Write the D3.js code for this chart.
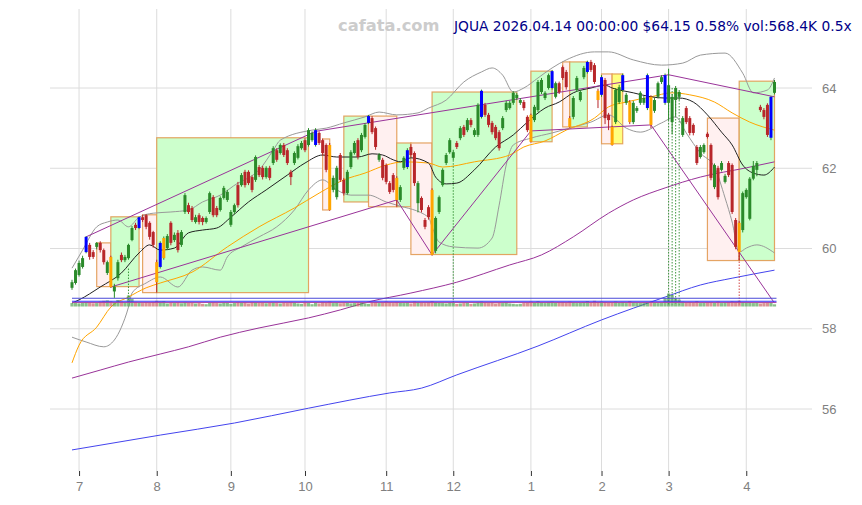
<!DOCTYPE html>
<html>
<head>
<meta charset="utf-8">
<title>JQUA daily</title>
<script src="https://cdn.jsdelivr.net/npm/d3@7"></script>
<style>
  body { margin: 0; background: #fff; }
  svg { display: block; font-family: "DejaVu Sans", sans-serif; }
</style>
</head>
<body>
<div id="chart"></div>
<script>
// x axis: bar index of the first trading day of each month
const monthIdx = [2, 24, 45, 66, 89, 108, 130, 150, 169, 191]
const monthLabels = ["7", "8", "9", "10", "11", "12", "1", "2", "3", "4"]
const priceTicks = [56, 58, 60, 62, 64]

// daily bars [open, high, low, close], 2025-06-27 .. 2026-04-14
const ohlc = [
  [59.02,59.22,58.97,59.16],[59.14,59.50,59.10,59.46],
  // jul
  [59.34,59.70,59.30,59.64],[59.54,59.82,59.50,59.76],[59.91,60.31,59.88,60.29],[60.09,60.14,59.72,59.79],
  [59.91,59.96,59.74,59.79],[60.04,60.16,59.98,60.14],[60.14,60.18,59.90,59.96],[59.96,60.00,59.60,59.66],
  [59.39,59.70,59.34,59.66],[59.79,59.82,59.02,59.04],[58.93,59.12,58.77,59.05],[59.26,59.72,59.20,59.66],
  [59.84,59.90,59.66,59.71],[59.71,59.84,59.66,59.79],[59.76,60.12,59.72,60.09],[60.21,60.56,60.18,60.51],
  [60.59,60.64,60.46,60.51],[60.51,60.80,60.48,60.78],[60.78,60.84,60.66,60.71],[60.83,60.86,60.48,60.54],
  [60.64,60.68,60.22,60.29],[60.41,60.44,60.02,60.09],
  // aug
  [59.66,59.72,58.90,59.16],[59.54,60.18,59.50,60.14],[59.76,60.30,59.72,60.26],[60.01,60.36,59.96,60.31],
  [60.64,60.68,60.08,60.14],[60.21,60.40,60.16,60.34],[60.39,60.46,59.90,59.96],[60.09,60.46,60.04,60.41],
  [60.91,61.38,60.86,61.33],[61.08,61.14,60.86,60.91],[61.01,61.06,60.66,60.71],[60.66,60.84,60.62,60.78],
  [60.83,60.88,60.60,60.66],[60.76,60.80,60.58,60.66],[60.66,60.80,60.62,60.76],[60.91,61.42,60.86,61.38],
  [61.28,61.33,60.78,60.83],[61.01,61.06,60.78,60.83],[60.96,61.30,60.92,61.26],[61.26,61.56,61.22,61.51],
  [61.21,61.46,61.16,61.41],
  // sep
  [60.59,60.96,60.54,60.91],[60.91,61.12,60.86,61.08],[61.58,61.66,61.02,61.08],[61.58,61.88,61.54,61.83],
  [61.91,61.96,61.52,61.58],[61.91,61.95,61.58,61.63],[61.78,61.82,61.40,61.46],[61.71,62.32,61.66,62.28],
  [62.03,62.08,61.78,61.83],[62.01,62.06,61.72,61.78],[61.78,62.05,61.74,62.01],[62.01,62.06,61.70,61.76],
  [62.13,62.55,62.08,62.50],[62.45,62.50,62.16,62.21],[62.38,62.62,62.34,62.58],[62.58,62.63,62.28,62.33],
  [62.45,62.50,62.08,62.13],[61.91,61.96,61.58,61.78],[62.13,62.42,62.08,62.38],[62.26,62.60,62.22,62.55],
  [62.50,62.68,62.46,62.63],
  // oct
  [62.70,62.75,62.40,62.45],[62.58,63.00,62.54,62.95],[62.70,62.92,62.66,62.88],[62.58,63.00,62.54,62.95],
  [62.88,62.92,62.58,62.63],[62.70,62.74,62.32,62.38],[62.58,62.62,61.90,61.96],[62.58,62.63,60.94,60.96],
  [61.46,61.82,61.40,61.76],[61.28,62.06,61.22,62.01],[62.33,62.38,61.66,61.71],[61.71,61.76,61.32,61.38],
  [61.38,61.96,61.34,61.91],[62.03,62.45,61.98,62.40],[62.38,62.68,62.34,62.63],[62.70,62.75,62.22,62.28],
  [62.45,62.88,62.40,62.83],[62.78,63.12,62.74,63.08],[63.13,63.33,63.10,63.30],[63.25,63.30,62.85,62.90],
  [63.00,63.04,62.46,62.53],[62.21,62.38,62.16,62.33],[62.21,62.26,61.70,61.76],
  // nov
  [62.08,62.12,61.60,61.66],[61.63,61.68,61.36,61.41],[61.83,61.88,61.40,61.46],[61.76,61.80,61.04,61.21],
  [61.21,61.58,61.16,61.53],[62.01,62.30,61.96,62.26],[62.03,62.50,61.98,62.45],[62.53,62.60,62.28,62.33],
  [62.38,62.42,61.56,61.63],[61.13,61.68,60.90,61.63],[61.26,61.30,60.90,60.96],[60.71,60.76,60.48,60.54],
  [61.03,61.08,60.72,60.78],[61.46,61.50,59.82,59.84],[59.94,60.80,59.88,60.76],[60.91,61.32,60.86,61.28],
  [61.58,62.00,61.54,61.96],[62.13,62.38,62.08,62.33],[62.40,62.75,62.36,62.70],
  // dec
  [62.26,62.46,62.20,62.40],[62.63,62.68,62.48,62.53],[62.75,63.05,62.70,63.00],[63.03,63.08,62.78,62.83],
  [62.95,63.25,62.90,63.20],[63.20,63.25,63.02,63.08],[62.83,63.00,62.78,62.95],[62.83,63.62,62.78,63.58],
  [63.28,63.96,63.24,63.93],[63.58,63.63,63.28,63.33],[63.33,63.38,63.02,63.08],[63.13,63.18,62.84,62.90],
  [63.03,63.08,62.70,62.75],[62.90,62.95,62.44,62.50],[63.00,63.30,62.95,63.25],[63.45,63.68,63.40,63.63],
  [63.50,63.68,63.46,63.63],[63.63,63.92,63.58,63.88],[63.75,63.88,63.70,63.83],[63.63,63.75,63.58,63.70],
  [63.65,63.70,63.44,63.50],[63.28,63.32,62.90,62.95],
  // jan
  [63.33,63.36,62.64,62.66],[63.20,63.58,63.15,63.53],[63.45,64.20,63.40,64.15],[63.90,64.25,63.85,64.20],
  [63.75,63.92,63.70,63.88],[64.00,64.36,63.96,64.32],[64.00,64.45,63.96,64.42],[63.78,64.16,63.74,64.12],
  [64.12,64.16,63.85,63.90],[64.52,64.56,64.20,64.25],[64.40,64.45,63.96,64.02],[63.25,63.30,63.01,63.03],
  [63.28,63.80,63.22,63.75],[63.95,64.30,63.90,64.25],[63.70,63.95,63.66,63.90],[64.27,64.55,64.22,64.50],
  [64.40,64.68,64.36,64.65],[64.65,64.70,64.40,64.45],[64.57,64.62,64.10,64.15],[63.93,63.98,63.50,63.70],
  // feb
  [63.83,64.32,63.78,64.27],[64.20,64.25,63.10,63.25],[63.33,63.38,62.95,63.20],[63.03,63.06,62.56,62.58],
  [63.15,64.00,63.10,63.95],[63.65,64.08,63.60,64.02],[63.95,64.36,63.90,64.32],[63.63,63.88,63.58,63.83],
  [63.65,63.70,63.10,63.15],[63.15,63.68,63.10,63.63],[63.43,63.55,63.38,63.50],[63.63,63.92,63.58,63.88],
  [63.63,63.80,63.58,63.75],[63.50,64.36,63.45,64.32],[63.78,63.82,63.00,63.08],[63.43,63.75,63.38,63.70],
  [63.78,64.16,63.74,64.12],[64.15,64.32,64.10,64.27],[63.63,64.36,63.58,64.32],
  // mar
  [63.63,64.48,63.20,64.07],[63.15,63.85,62.85,63.78],[63.70,64.05,63.30,64.00],[63.78,63.95,63.70,63.90],
  [62.83,63.30,62.78,63.25],[63.50,63.55,63.10,63.15],[63.25,63.30,62.82,62.88],[63.08,63.12,62.82,62.88],
  [62.53,62.58,62.08,62.13],[62.28,62.58,62.24,62.53],[62.40,62.62,62.36,62.58],[62.86,62.90,62.74,62.78],
  [62.58,62.62,61.70,61.76],[61.53,62.12,61.48,62.08],[62.01,62.06,61.22,61.28],[61.96,62.18,61.92,62.13],
  [61.66,61.86,61.62,61.81],[62.13,62.18,61.78,61.83],[62.08,62.12,60.86,60.91],[60.71,60.76,59.98,60.04],
  [60.64,60.68,59.70,59.91],[60.46,61.42,60.40,61.38],
  // apr
  [61.28,61.50,61.24,61.46],[60.74,61.78,60.70,61.74],[61.74,62.18,61.70,62.06],[61.96,62.18,61.80,62.13],
  [63.53,63.58,63.40,63.45],[63.45,63.50,63.22,63.28],[63.58,63.62,62.78,62.83],[62.76,63.80,62.70,63.78],
  [63.88,64.20,63.84,64.15]
]
const blueBars = [4, 19, 25, 69, 84, 95, 116, 136, 146, 150, 156, 163, 168, 198]
const orangeBars = [11, 24, 26, 73, 92, 102, 130, 141, 149, 153, 158, 164, 189]

// volume, thousands of shares
const volumes = [
  900,1100,800,950,1200,1000,850,900,1300,1500,
  1600,1400,1200,1700,1300,1100,2900,2000,1200,1000,
  900,1100,1000,1200,1500,1300,1400,800,1000,900,
  1100,850,1200,950,1000,800,900,700,600,1000,
  1100,900,800,1000,950,700,900,1200,1000,1100,
  800,1200,1100,900,1000,850,950,1000,900,800,
  1000,900,1200,1100,800,700,1000,900,600,1100,
  800,1200,1000,1300,900,1000,850,900,1000,800,
  900,1100,1000,800,700,1100,1200,900,1000,1300,
  1100,900,1200,1000,900,1100,800,1300,1200,1000,
  900,1100,1400,1200,1000,900,800,1100,1000,700,
  800,900,1000,700,800,1200,1300,1000,900,1100,
  800,1000,900,1200,800,700,600,700,900,1000,
  1300,1000,1400,1100,900,1200,1300,1000,1100,1200,
  1000,1300,1100,900,1000,1200,1400,1100,1500,1200,
  1300,1200,1000,1100,1300,1000,1200,900,1400,1100,
  1000,900,1100,1200,1300,1000,900,1000,2200,3400,
  3000,2200,1800,1300,1100,1200,1000,1400,900,1000,
  1100,1200,1000,1300,900,1100,1200,1400,1300,1500,
  1200,1000,1100,900,1000,800,900,1000,1100,568.4
]
const volLevels = [58.76, 58.685, 58.655]

// range boxes [fromBar, toBar, top, bottom, kind]
const boxes = [
  [7, 11, 60.14, 59.05, "down"], [11, 19, 60.79, 59.05, "up"], [20, 24, 60.84, 58.90, "down"],
  [24, 67, 62.76, 58.90, "up"], [71, 73, 62.73, 60.96, "down"], [77, 84, 63.30, 61.16, "up"],
  [84, 92, 63.30, 61.04, "down"], [92, 96, 62.63, 61.04, "up"], [96, 102, 62.63, 59.85, "down"],
  [102, 126, 63.90, 59.85, "up"], [130, 136, 64.42, 62.66, "up"], [139, 141, 64.65, 63.03, "down"],
  [141, 146, 64.65, 63.03, "up"], [150, 153, 64.35, 62.61, "down"], [153, 156, 64.35, 62.61, "flat"],
  [180, 189, 63.25, 59.70, "down"], [189, 199, 64.17, 59.70, "up"]
]

// moving averages and bands [bar, price]
const maShort = [[0,58.64],[2,58.72],[8,59.04],[14,59.39],[19,59.89],[22,60.09],[25,59.96],[29,60.01],
  [33,60.39],[37,60.46],[41,60.51],[45,60.78],[50,61.16],[55,61.46],[61,61.83],[66,62.13],[71,62.33],
  [75,62.28],[81,62.28],[85,62.36],[88,62.33],[91,62.21],[93,62.16],[96,62.26],[101,62.13],[103,61.78],
  [106,61.61],[109,61.63],[114,61.96],[120,62.53],[125,62.83],[129,63.15],[134,63.50],[138,63.65],
  [142,63.88],[147,64.00],[151,64.07],[153,64.00],[159,63.88],[164,63.78],[168,63.75],[172,63.75],
  [176,63.65],[180,63.33],[184,62.90],[187,62.58],[190,62.08],[193,61.88],[196,61.83],[199,62.03]]
const maMid = [[0,57.15],[2,57.59],[7,58.04],[11,58.54],[16,58.79],[21,59.02],[25,59.14],[34,59.41],
  [44,60.04],[53,60.54],[63,61.01],[70,61.38],[77,61.71],[83,61.88],[89,62.08],[94,62.16],[101,62.13],
  [105,62.03],[114,62.16],[124,62.33],[128,62.53],[134,62.68],[140,62.95],[148,63.25],[152,63.53],
  [157,63.65],[164,63.78],[170,63.88],[175,63.83],[182,63.65],[187,63.38],[192,63.15],[199,62.95]]
const bandUpper = [[0,59.51],[3,59.96],[7,60.54],[10,60.66],[13,60.71],[16,60.54],[19,60.78],[23,60.88],
  [28,60.91],[33,60.96],[37,61.16],[42,61.33],[47,61.63],[50,61.76],[53,61.96],[57,62.45],[59,62.70],
  [68,62.95],[72,63.00],[77,63.13],[83,63.28],[87,63.40],[92,63.33],[98,63.38],[101,63.50],[106,63.70],
  [111,64.15],[116,64.40],[119,64.50],[122,64.32],[125,63.90],[128,64.00],[132,64.25],[136,64.50],
  [140,64.70],[148,64.90],[152,64.90],[159,64.70],[167,64.57],[173,64.62],[178,64.82],[185,64.87],
  [190,64.37],[193,63.88],[197,63.95],[199,64.25]]
const bandLower = [[0,57.79],[4,57.67],[9,57.55],[12,57.72],[14,58.04],[16,58.54],[17,58.89],[21,59.14],
  [25,59.29],[30,59.04],[34,59.46],[37,59.54],[42,59.46],[44,59.79],[48,60.04],[53,60.29],[58,60.54],
  [63,60.96],[67,61.46],[71,61.71],[75,61.46],[79,61.33],[84,61.33],[89,61.16],[92,61.08],[101,60.78],
  [102,60.54],[104,60.16],[108,60.04],[115,60.01],[119,60.26],[121,61.08],[123,62.08],[125,62.58],
  [130,62.75],[136,62.88],[141,63.00],[147,63.15],[152,63.33],[157,63.00],[161,62.90],[167,63.13],
  [171,63.28],[174,62.88],[178,62.38],[182,62.03],[185,61.26],[187,60.66],[189,59.91],[191,60.01],
  [194,60.09],[199,59.89]]
const maLong = [[0,56.77],[8,56.97],[16,57.17],[25,57.37],[33,57.55],[42,57.79],[53,58.02],[67,58.27],
  [76,58.47],[84,58.67],[96,58.89],[109,59.16],[124,59.59],[133,59.84],[142,60.29],[152,60.88],
  [159,61.21],[168,61.51],[178,61.78],[191,62.01],[199,62.16]]
const maYear = [[0,54.98],[25,55.35],[46,55.65],[67,56.02],[90,56.40],[99,56.52],[109,56.85],[132,57.57],
  [150,58.22],[168,58.79],[178,59.09],[187,59.26],[199,59.46]]

// trend lines through pivots
const trendTop = [[4,60.29],[69,62.92],[169,64.33],[199,63.78]]
const trendLow = [[11,59.04],[92,61.21],[102,59.84],[130,62.93],[164,63.08],[199,58.64]]

// signal markers [bar, price, kind]
const signals = [[16,59.50,"buy"],[108,62.20,"buy"],[169,64.10,"buy"],[170,64.00,"buy"],
  [171,63.90,"buy"],[172,63.85,"buy"],[189,59.90,"sell"]]

const w = 862
const h = 505
const green = "#2a8a2a"
const red = "#b8262a"

const x = d3.scaleLinear().domain([0, 199]).range([72, 774.5])
const y = d3.scaleLinear().domain([56, 64]).range([409, 88])
const vh = d3.scaleLinear().domain([0, 3400]).range([0, 13])
const volBase = 306.5

const svg = d3.select("#chart").append("svg")
  .attr("width", w)
  .attr("height", h)

// grid
svg.append("g").selectAll("line").data(priceTicks).join("line")
  .attr("x1", 50).attr("x2", 812)
  .attr("y1", d => y(d)).attr("y2", d => y(d))
  .attr("stroke", "#dcdcdc")
svg.append("g").selectAll("line").data(monthIdx).join("line")
  .attr("x1", d => x(d)).attr("x2", d => x(d))
  .attr("y1", 9).attr("y2", 471)
  .attr("stroke", "#dcdcdc")

// boxes
const boxFill = {up: "#ccffcc", down: "#fff0f0", flat: "#ffff80"}
svg.append("g").selectAll("rect").data(boxes).join("rect")
  .attr("x", d => x(d[0]))
  .attr("y", d => y(d[2]))
  .attr("width", d => x(d[1]) - x(d[0]))
  .attr("height", d => y(d[3]) - y(d[2]))
  .attr("fill", d => boxFill[d[4]])
  .attr("stroke", "#e0954a")
  .attr("stroke-opacity", 0.85)
  .attr("stroke-width", 1.2)

// curves
const smooth = d3.line().x(d => x(d[0])).y(d => y(d[1])).curve(d3.curveMonotoneX)
const straight = d3.line().x(d => x(d[0])).y(d => y(d[1]))
const curves = [
  [bandUpper, "#999999", smooth], [bandLower, "#999999", smooth],
  [maLong, "#993399", smooth], [maYear, "#4444ee", smooth],
  [maMid, "#ffa500", smooth], [maShort, "#222222", smooth],
  [trendTop, "#993399", straight], [trendLow, "#993399", straight]
]
curves.forEach(c => {
  svg.append("path")
    .attr("d", c[2](c[0]))
    .attr("fill", "none")
    .attr("stroke", c[1])
    .attr("stroke-width", 1)
})

// signal markers
svg.append("g").selectAll("line").data(signals).join("line")
  .attr("x1", d => x(d[0])).attr("x2", d => x(d[0]))
  .attr("y1", d => y(d[1])).attr("y2", volBase - 2)
  .attr("stroke", d => d[2] == "buy" ? green : "#cc3333")
  .attr("stroke-width", 0.9)
  .attr("stroke-dasharray", "1.5,1.5")

// volume
svg.append("g").selectAll("rect").data(volumes).join("rect")
  .attr("x", (d, i) => x(i) - 1.6)
  .attr("width", 3.2)
  .attr("y", d => volBase - vh(d))
  .attr("height", d => vh(d))
  .attr("fill", (d, i) => ohlc[i][3] >= ohlc[i][0] ? "#4c9e4c" : "#c85a5a")
  .attr("opacity", 0.65)
const volColors = ["#4a4ad8", "#3333ff", "#aa44aa"]
svg.append("g").selectAll("line").data(volLevels).join("line")
  .attr("x1", x(0)).attr("x2", x(199) + 2)
  .attr("y1", d => y(d)).attr("y2", d => y(d))
  .attr("stroke", (d, i) => volColors[i])
  .attr("stroke-width", 1)

// candles
const bodyColor = (d, i) => {
  if (blueBars.includes(i)) return "#0000ff"
  if (orangeBars.includes(i)) return "#ffa500"
  return d[3] >= d[0] ? green : red
}
const candles = svg.append("g")
candles.selectAll("line").data(ohlc).join("line")
  .attr("x1", (d, i) => x(i)).attr("x2", (d, i) => x(i))
  .attr("y1", d => y(d[1])).attr("y2", d => y(d[2]))
  .attr("stroke", (d, i) => d[3] >= d[0] ? green : red)
  .attr("stroke-width", 1)
candles.selectAll("rect").data(ohlc).join("rect")
  .attr("x", (d, i) => x(i) - 1.5)
  .attr("width", 3)
  .attr("y", d => y(Math.max(d[0], d[3])))
  .attr("height", d => Math.max(1, Math.abs(y(d[0]) - y(d[3]))))
  .attr("fill", bodyColor)

// axes
svg.append("g")
  .attr("transform", "translate(812,0)")
  .call(d3.axisRight(y).tickValues(priceTicks).tickSize(0).tickPadding(10))
  .call(g => g.select(".domain").remove())
  .selectAll("text")
  .attr("fill", "#808080")
  .attr("font-size", 13)

svg.append("g")
  .attr("transform", "translate(0,471)")
  .call(d3.axisBottom(x).tickValues(monthIdx).tickFormat((d, i) => monthLabels[i]).tickSize(5).tickPadding(6))
  .call(g => g.select(".domain").remove())
  .call(g => g.selectAll("line").attr("stroke", "#333"))
  .selectAll("text")
  .attr("fill", "#808080")
  .attr("font-size", 13)

// header
svg.append("text")
  .attr("x", 338).attr("y", 31)
  .attr("font-size", 16.3).attr("font-weight", "bold")
  .attr("fill", "#cccccc")
  .text("cafata.com")
svg.append("text")
  .attr("x", 454).attr("y", 31)
  .attr("font-size", 13.8)
  .attr("fill", "#000088")
  .text("JQUA 2026.04.14 00:00:00 $64.15 0.58% vol:568.4K 0.5x")
</script>
</body>
</html>
